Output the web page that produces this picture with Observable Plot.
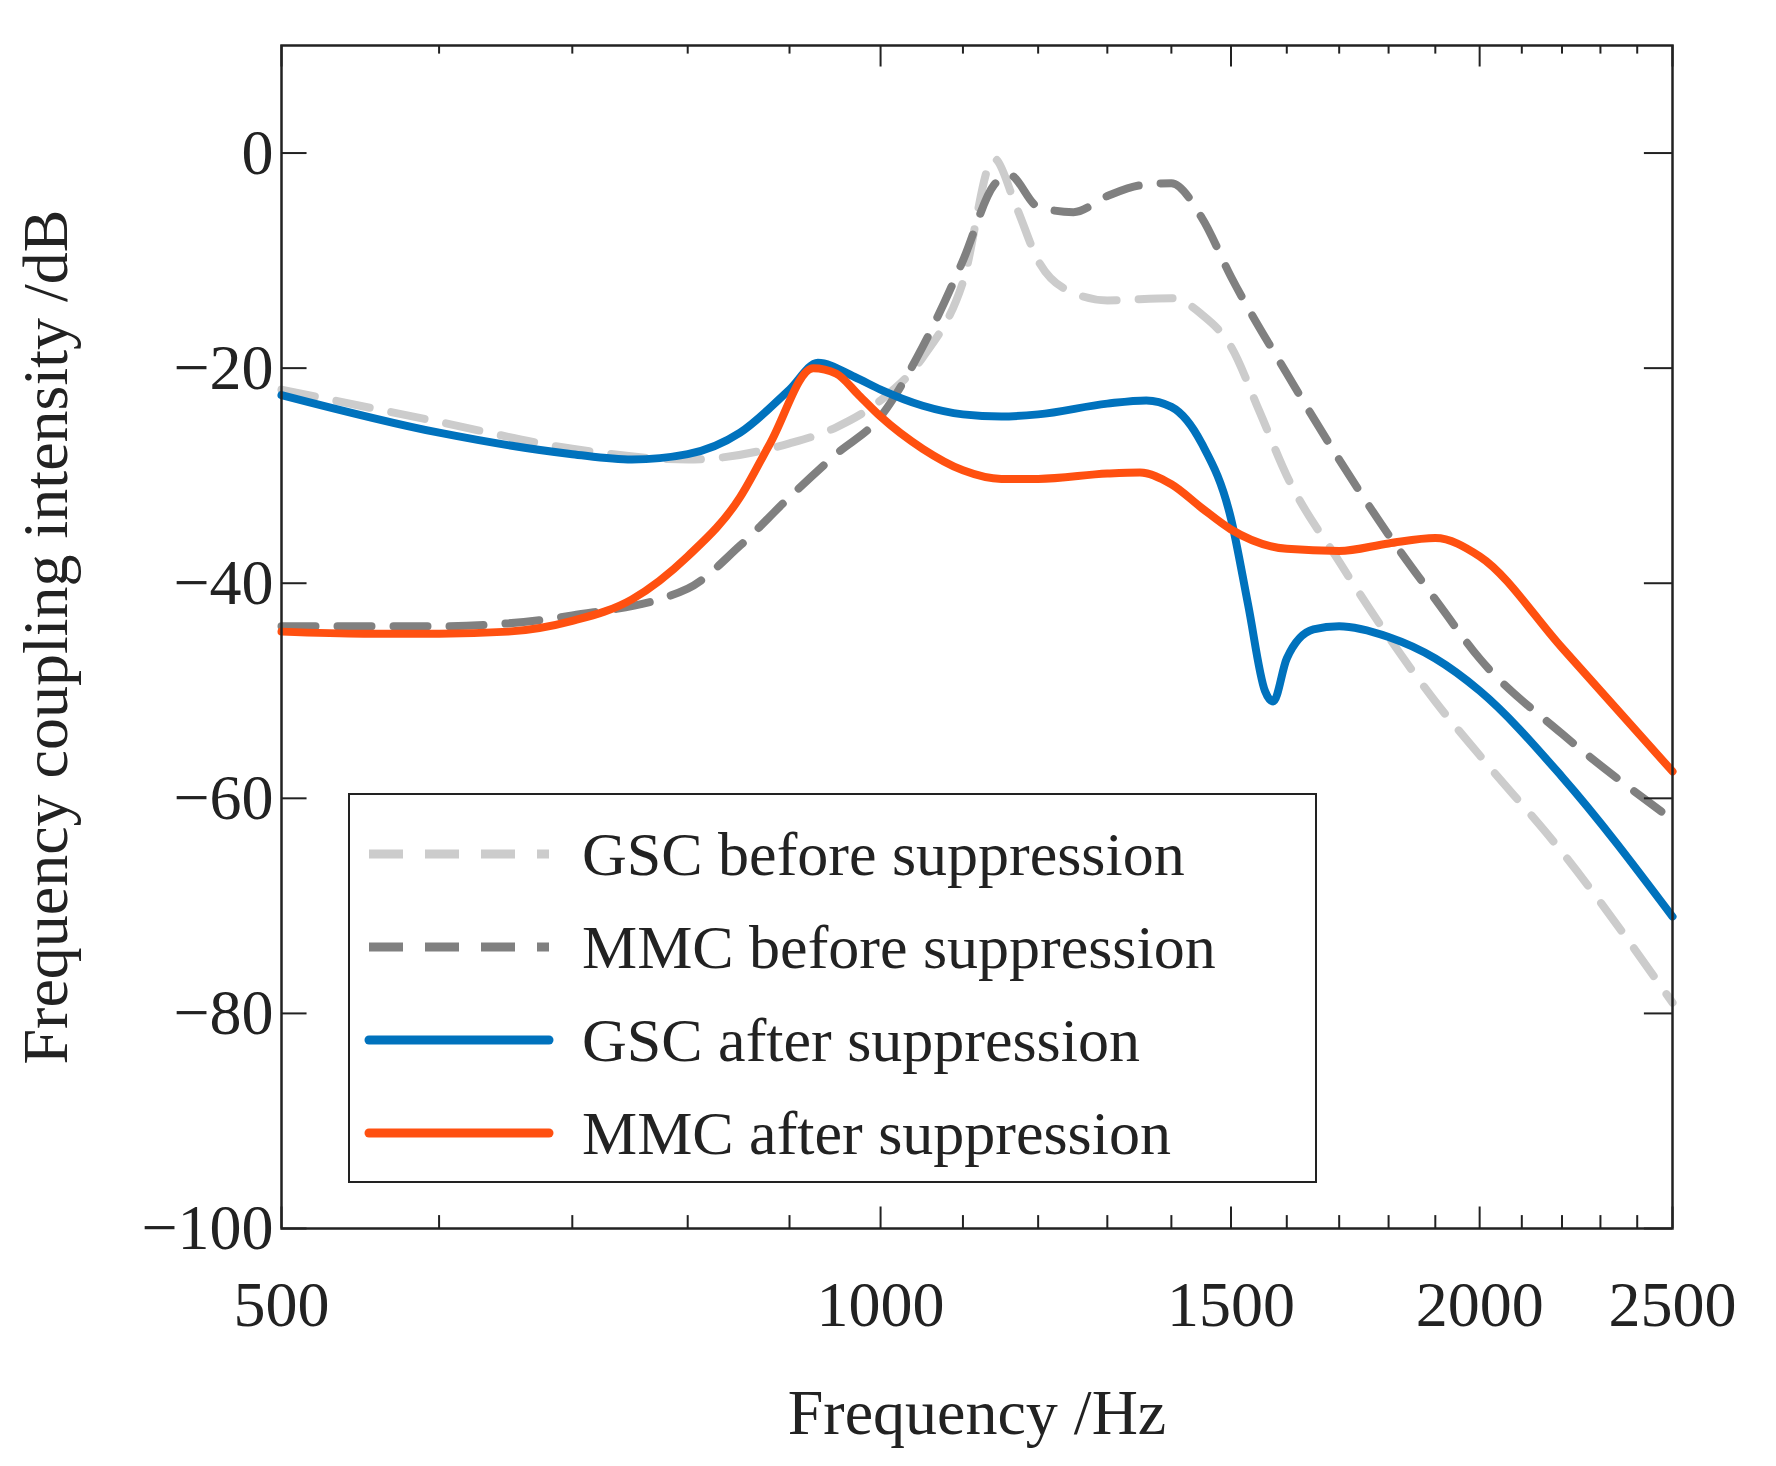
<!DOCTYPE html>
<html><head><meta charset="utf-8">
<script src="https://cdn.jsdelivr.net/npm/d3@7"></script>
<script src="https://cdn.jsdelivr.net/npm/@observablehq/plot@0.6"></script>
<style>body{margin:0;background:#fff}#c{position:relative;width:1776px;height:1466px}
#leg{position:absolute;left:348px;top:793px;width:969px;height:390px;border:2.5px solid #222;background:#fff;box-sizing:border-box;font-family:"Liberation Serif",serif;font-size:62px;color:#222}
.r{position:absolute;left:0;height:90px;display:flex;align-items:center}
.r svg{margin-left:14px;margin-right:28px}</style></head>
<body><div id="c"></div>
<script>
const seriesNames=["GSC before suppression","MMC before suppression","GSC after suppression","MMC after suppression"];
const colors=["#cccccc","#808080","#0072bd","#ff5010"];
const freqGSCb=[500,600,700,800,900,950,1000,1050,1100,1140,1170,1200,1250,1300,1400,1450,1500,1550,1600,1700,1800,1900,2000,2200,2500];
const valGSCb=[-22,-25,-27.5,-28.5,-27,-25.5,-23,-19,-12,-0.5,-5,-10,-13,-13.7,-13.5,-15,-18,-24,-30,-38,-45,-51,-56,-65,-79];
const freqMMCb=[500,600,700,800,850,900,950,1000,1050,1100,1140,1160,1200,1250,1300,1350,1400,1450,1500,1600,1700,1800,1900,2000,2200,2500];
const valMMCb=[-44,-44,-43,-40.5,-36.5,-32,-28,-24.5,-18,-10,-3,-2,-5,-5.5,-4,-3,-2.8,-6,-11.5,-20.5,-28.5,-35.5,-41.5,-47,-54,-62];
const freqGSCa=[500,600,700,750,800,850,900,930,970,1000,1050,1100,1150,1200,1300,1360,1400,1450,1500,1530,1560,1575,1600,1650,1700,1800,1900,2000,2200,2500];
const valGSCa=[-22.5,-26,-28,-28.5,-28,-26,-22,-19.5,-20.8,-22,-23.5,-24.3,-24.5,-24.3,-23.3,-23,-23.6,-27,-34,-42,-50,-51,-47,-44.3,-44,-45,-47,-50,-58,-71];
const freqMMCa=[500,550,600,650,700,750,800,850,880,925,950,975,1000,1050,1100,1150,1200,1300,1350,1400,1450,1500,1600,1700,1800,1900,2000,2200,2500];
const valMMCa=[-44.5,-44.7,-44.7,-44.5,-43.5,-41.5,-37.5,-32,-27,-20,-20.5,-22.5,-24.5,-27.5,-29.5,-30.3,-30.3,-29.8,-29.7,-30.8,-33,-35,-36.8,-37,-36.3,-35.8,-37.5,-46,-57.5];
const xTicks=[500,1000,1500,2000,2500];
const xMinor=[600,700,800,900,1100,1200,1300,1400,1600,1700,1800,1900,2100,2200,2300,2400];
const yTicks=[-100,-80,-60,-40,-20,0];
const mk=(f,v)=>f.map((x,i)=>({x,y:v[i]}));
const data=[mk(freqGSCb,valGSCb),mk(freqMMCb,valMMCb),mk(freqGSCa,valGSCa),mk(freqMMCa,valMMCa)];
const dashes=["34,22","34,22",null,null];
const marks=[];
data.forEach((d,i)=>marks.push(Plot.line(d,{x:"x",y:"y",stroke:colors[i],strokeWidth:8,curve:"monotone-x",strokeDasharray:dashes[i]})));
const all=[...xTicks,...xMinor];
marks.push(Plot.ruleX(all,{x:d=>d,y1:-100,y2:d=>xTicks.includes(d)?-98:-98.8,stroke:"#222",strokeWidth:2}));
marks.push(Plot.ruleX(all,{x:d=>d,y1:10,y2:d=>xTicks.includes(d)?8:9.2,stroke:"#222",strokeWidth:2}));
marks.push(Plot.ruleY(yTicks,{y:d=>d,x1:500,x2:515,stroke:"#222",strokeWidth:2}));
marks.push(Plot.ruleY(yTicks,{y:d=>d,x1:2420,x2:2500,stroke:"#222",strokeWidth:2}));
marks.push(Plot.frame({stroke:"#222",strokeWidth:2.5}));
const p=Plot.plot({width:1776,height:1466,marginLeft:281,marginRight:104,marginTop:45,marginBottom:238,
 style:{fontFamily:"Liberation Serif, serif",fontSize:"64px",color:"#222",background:"#fff"},
 x:{type:"log",domain:[500,2500],ticks:xTicks,tickFormat:d=>String(d),tickSize:0,tickPadding:52,label:"Frequency /Hz",labelAnchor:"center",labelOffset:205,labelArrow:"none"},
 y:{domain:[-100,10],ticks:yTicks,tickFormat:d=>d<0?"\u2212"+(-d):String(d),tickSize:0,tickPadding:8,label:"Frequency coupling intensity /dB",labelAnchor:"center",labelOffset:260,labelArrow:"none"},
 marks});
const c=document.getElementById("c");c.appendChild(p);
const leg=document.createElement("div");leg.id="leg";
seriesNames.forEach((n,i)=>{const r=document.createElement("div");r.className="r";r.style.top=(14+i*93)+"px";
 r.innerHTML=`<svg width="190" height="20"><line x1="5" y1="10" x2="185" y2="10" stroke="${colors[i]}" stroke-width="9" ${dashes[i]?`stroke-dasharray="${dashes[i]}"`:'stroke-linecap="round"'}/></svg><span>${n}</span>`;leg.appendChild(r);});
c.appendChild(leg);
</script></body></html>
